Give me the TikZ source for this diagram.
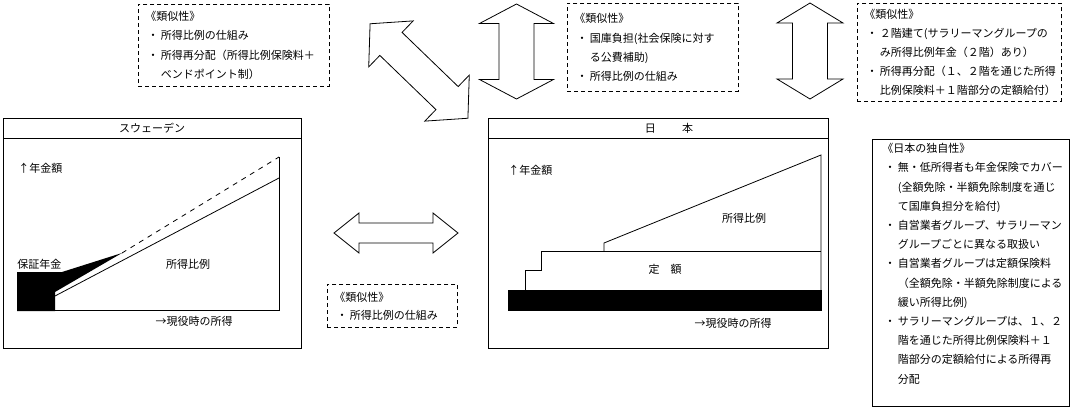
\documentclass[tikz,border=0pt]{standalone}
\usepackage{fontspec}
\setmainfont{Noto Sans CJK JP}
\usetikzlibrary{arrows.meta}
% bullet and hanging indent for the note boxes
\newcommand{\bl}{\makebox[1.4em][c]{・}}
\newcommand{\cn}{\hspace*{1.4em}}
% outlined double arrow: centre, angle, half length, head length, head half width, shaft half width
\newcommand{\dblarr}[6]{%
  \draw[shift={#1},rotate=#2] (-#3,0) -- (-#3+#4,#5) -- (-#3+#4,#6) -- (#3-#4,#6)
    -- (#3-#4,#5) -- (#3,0) -- (#3-#4,-#5) -- (#3-#4,-#6) -- (-#3+#4,-#6)
    -- (-#3+#4,-#5) -- cycle;}

\begin{document}
\begin{tikzpicture}[x=1pt,y=-1pt,line width=0.8pt,>=Stealth,
  every node/.style={font=\fontsize{11}{19.2}\selectfont},
  simbox/.style={draw,dash pattern=on 4pt off 3pt,anchor=north west,align=left,inner xsep=7pt,inner ysep=0pt},
  chartbox/.style={draw,anchor=north west,inner sep=0pt}]
  \useasboundingbox (0,0) rectangle (1072,410);

  % similarity notes
  \node[simbox,minimum width=191,minimum height=82,text width=177] (sim1) at (138,4)
    {《類似性》\\ \bl 所得比例の仕組み\\ \bl 所得再分配（所得比例保険料＋\\ \cn ベンドポイント制）};
  \node[simbox,minimum width=171,minimum height=88,text width=157] (sim2) at (567,3)
    {《類似性》\\ \bl 国庫負担(社会保険に対す\\ \cn る公費補助)\\ \bl 所得比例の仕組み};
  \node[simbox,minimum width=204,minimum height=98,text width=190] (sim3) at (857,3)
    {《類似性》\\ \bl ２階建て(サラリーマングループの\\ \cn み所得比例年金（２階）あり）\\ \bl 所得再分配（１、２階を通じた所得\\ \cn 比例保険料＋１階部分の定額給付）};
  \node[simbox,minimum width=130,minimum height=43,text width=116,font=\fontsize{11}{18}\selectfont] (sim4) at (327,284)
    {《類似性》\\ \bl 所得比例の仕組み};

  % double arrows
  \dblarr{(419,71)}{-44}{68}{29}{32}{16}
  \dblarr{(516.5,51.5)}{90}{47.5}{19.5}{37}{17.5}
  \dblarr{(810,51)}{90}{48}{20}{33}{17.5}
  \dblarr{(396,233)}{0}{62}{25}{20}{10}

  % Sweden
  \node[chartbox,minimum width=298,minimum height=230] (sweden) at (3,118) {};
  \draw (3,138) -- (301,138);
  \node (swtitle) at (152,128) {スウェーデン};
  \node[anchor=west,inner sep=0pt] (swyaxis) at (18,168) {↑年金額};
  \fill (17,272) -- (62,272) -- (122,253) -- (55,292) -- (55,311) -- (17,311) -- cycle;
  \draw (55,296) -- (279,178);
  \draw[dash pattern=on 5pt off 5pt] (122,253) -- (279,157);
  \draw (17,310) -- (279,310) -- (279,157);
  \node[anchor=west,inner sep=0pt] (guar) at (17,264) {保証年金};
  \node (swprop) at (188,264) {所得比例};
  \node (swxaxis) at (194,321) {→現役時の所得};

  % Japan
  \node[chartbox,minimum width=340,minimum height=230] (japan) at (488,118) {};
  \draw (488,138) -- (828,138);
  \node (jptitle) at (669,128) {日\hspace{2.4em}本};
  \node[anchor=west,inner sep=0pt] (jpyaxis) at (508,170) {↑年金額};
  \fill (508,290) rectangle (822,311);
  \draw (525,290) -- (525,270) -- (541,270) -- (541,251) -- (821,251);
  \draw (604,251) -- (604,243) -- (821,155) -- (821,290);
  \node (jpprop) at (744,218) {所得比例};
  \node (jpflat) at (665,269) {定\hspace{1em}額};
  \node (jpxaxis) at (733,323) {→現役時の所得};

  % Japan's own features
  \node[chartbox,minimum width=197,minimum height=267] (uniq) at (872,139) {};
  \node[anchor=north west,align=left,inner sep=0pt] (uniqtxt) at (882,143)
    {《日本の独自性》\\ \bl 無・低所得者も年金保険でカバー\\ \cn (全額免除・半額免除制度を通じ\\
     \cn て国庫負担分を給付)\\ \bl 自営業者グループ、サラリーマン\\ \cn グループごとに異なる取扱い\\
     \bl 自営業者グループは定額保険料\\ \cn （全額免除・半額免除制度による\\ \cn 緩い所得比例)\\
     \bl サラリーマングループは、１、２\\ \cn 階を通じた所得比例保険料＋１\\ \cn 階部分の定額給付による所得再\\
     \cn 分配};
\end{tikzpicture}
\end{document}
